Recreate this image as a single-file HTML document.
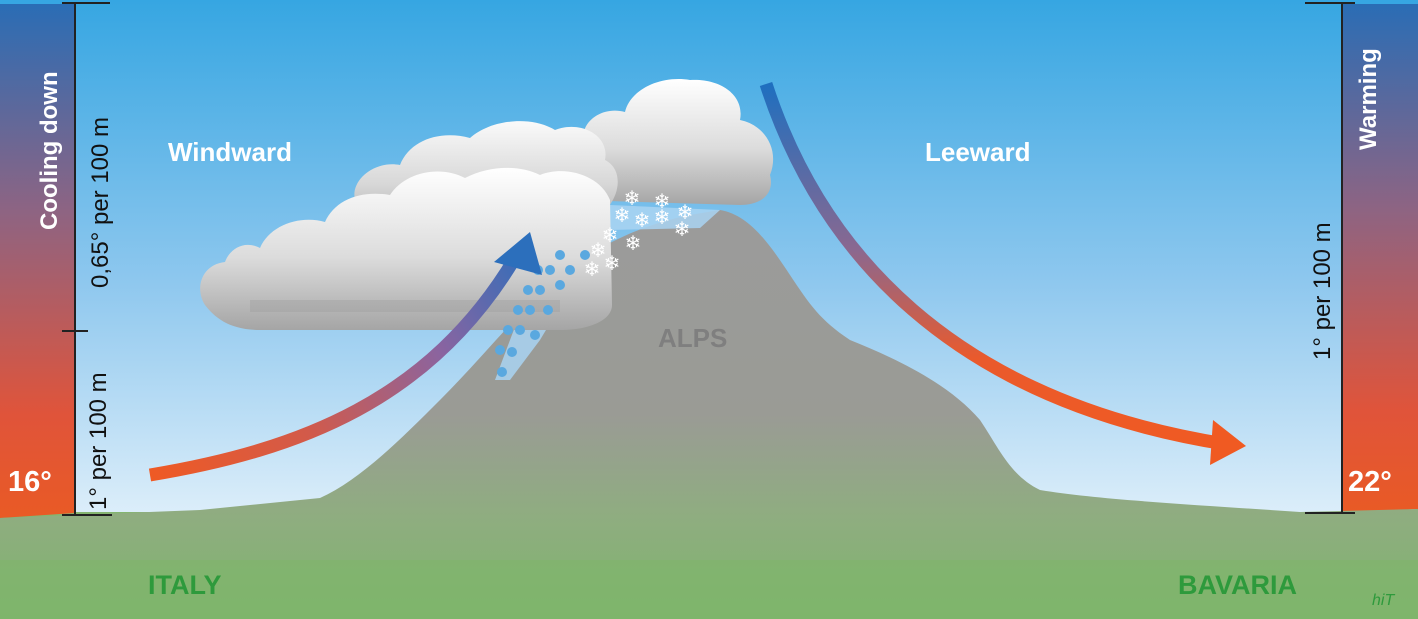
<!DOCTYPE html>
<html><head><style>
html,body{margin:0;padding:0;width:1418px;height:619px;overflow:hidden;background:#fff}
svg{display:block}
text{font-family:"Liberation Sans",Arial,sans-serif}
</style></head><body>
<svg width="1418" height="619" viewBox="0 0 1418 619" xmlns="http://www.w3.org/2000/svg">
<defs>
<linearGradient id="sky" x1="0" y1="0" x2="0" y2="1">
<stop offset="0" stop-color="#36a6e2"/><stop offset="0.45" stop-color="#8dc7ee"/><stop offset="1" stop-color="#ffffff"/>
</linearGradient>
<linearGradient id="bar" x1="0" y1="0" x2="0" y2="1">
<stop offset="0" stop-color="#2a6db5"/><stop offset="0.4" stop-color="#8d6483"/><stop offset="0.8" stop-color="#e0543a"/><stop offset="1" stop-color="#e95a25"/>
</linearGradient>
<linearGradient id="mtn" x1="0" y1="0" x2="0" y2="1">
<stop offset="0" stop-color="#9b9b9b"/><stop offset="0.5" stop-color="#9a9b95"/><stop offset="0.75" stop-color="#8fad80"/><stop offset="1" stop-color="#7eb46c"/>
</linearGradient>
<linearGradient id="cl" x1="0" y1="0" x2="0" y2="1">
<stop offset="0" stop-color="#ffffff"/><stop offset="0.55" stop-color="#dcdcdc"/><stop offset="1" stop-color="#a5a5a5"/>
</linearGradient>
<linearGradient id="cl2" x1="0" y1="0" x2="0" y2="1">
<stop offset="0" stop-color="#fafafa"/><stop offset="0.5" stop-color="#d8d8d8"/><stop offset="1" stop-color="#a0a0a0"/>
</linearGradient>
<linearGradient id="a1" x1="150" y1="475" x2="530" y2="240" gradientUnits="userSpaceOnUse">
<stop offset="0" stop-color="#ef5a24"/><stop offset="0.35" stop-color="#d25a4a"/><stop offset="0.7" stop-color="#8a64a0"/><stop offset="1" stop-color="#2c6fbc"/>
</linearGradient>
<linearGradient id="a2" x1="0" y1="85" x2="0" y2="450" gradientUnits="userSpaceOnUse">
<stop offset="0" stop-color="#1f6fbf"/><stop offset="0.45" stop-color="#8a6890"/><stop offset="0.75" stop-color="#ea5a2c"/><stop offset="1" stop-color="#f05a22"/>
</linearGradient>
</defs>
<rect width="1418" height="619" fill="url(#sky)"/>
<rect x="0" y="512" width="1418" height="107" fill="#84b570"/>
<polygon points="0,4 75,4 75,513 0,518" fill="url(#bar)"/>
<polygon points="1343,4 1418,4 1418,509 1343,513" fill="url(#bar)"/>
<path d="M0,518 L200,510 L320,498 C360,480 400,440 440,400 C480,360 520,310 560,275 C600,245 640,225 690,215 L720,210 C750,215 770,245 790,275 C810,305 820,320 850,340 C900,360 950,385 980,420 C1000,450 1010,475 1040,490 C1100,500 1200,505 1300,512 L1418,509 L1418,619 L0,619 Z" fill="url(#mtn)"/>
<rect x="0" y="560" width="1418" height="59" fill="#7fb56b" opacity="0.6"/>
<path d="M495,380 L540,260 L610,205 L720,210 L700,228 L610,230 L570,290 L540,340 L510,380 Z" fill="#a9d4f2" opacity="0.85"/>
<g fill="url(#cl)">
<path d="M575,200 C560,190 565,160 585,150 C575,125 600,105 625,112 C630,90 660,75 690,80 C720,78 745,95 740,120 C765,125 780,150 770,175 C775,195 760,205 740,205 Z"/>
<path d="M340,240 C325,225 335,205 355,200 C350,180 375,160 400,165 C410,140 440,130 470,138 C490,120 530,115 555,130 C580,120 610,135 605,160 C625,170 620,200 600,215 L600,245 Z" fill="url(#cl2)"/>
<path d="M205,305 C195,290 200,265 225,262 C230,248 245,240 260,248 C270,225 300,215 325,222 C335,200 360,190 390,195 C405,172 440,165 465,178 C490,165 520,165 540,175 C565,165 600,175 610,200 L612,305 C612,320 590,330 560,330 L260,330 C230,330 215,318 205,305 Z"/>
</g>
<path d="M250,300 L560,300 L560,312 L250,312 Z" fill="#9a9a9a" opacity="0.35"/>
<g fill="#5aa8df">
<circle cx="502" cy="372" r="5"/><circle cx="512" cy="352" r="5"/><circle cx="500" cy="350" r="5"/><circle cx="520" cy="330" r="5"/><circle cx="508" cy="330" r="5"/><circle cx="530" cy="310" r="5"/><circle cx="518" cy="310" r="5"/><circle cx="540" cy="290" r="5"/><circle cx="528" cy="290" r="5"/><circle cx="550" cy="270" r="5"/><circle cx="538" cy="270" r="5"/><circle cx="560" cy="255" r="5"/><circle cx="570" cy="270" r="5"/><circle cx="548" cy="310" r="5"/><circle cx="560" cy="285" r="5"/><circle cx="585" cy="255" r="5"/><circle cx="535" cy="335" r="5"/>
</g>
<g fill="#ffffff" font-size="20" text-anchor="middle">
<text x="632" y="205">❄</text><text x="662" y="208">❄</text><text x="622" y="222">❄</text><text x="642" y="227">❄</text><text x="662" y="224">❄</text><text x="685" y="219">❄</text><text x="682" y="236">❄</text><text x="610" y="242">❄</text><text x="633" y="250">❄</text><text x="598" y="257">❄</text><text x="612" y="270">❄</text><text x="592" y="276">❄</text>
</g>
<path d="M150,475 C300,450 430,400 515,258" fill="none" stroke="url(#a1)" stroke-width="13"/>
<polygon points="494,262 530,232 542,275 " fill="#2c6fbc"/>
<path d="M766,84 C820,250 950,400 1225,444" fill="none" stroke="url(#a2)" stroke-width="13"/>
<polygon points="1213,420 1246,446 1210,465" fill="#f05a22"/>
<g stroke="#222" stroke-width="2">
<line x1="75" y1="3" x2="75" y2="515"/><line x1="62" y1="3" x2="110" y2="3"/><line x1="62" y1="331" x2="88" y2="331"/><line x1="62" y1="515" x2="112" y2="515"/>
<line x1="1342" y1="3" x2="1342" y2="513"/><line x1="1305" y1="3" x2="1355" y2="3"/><line x1="1305" y1="513" x2="1355" y2="513"/>
</g>
<g font-size="24" fill="#fff" font-weight="bold">
<text transform="translate(57,230) rotate(-90)">Cooling down</text>
<text transform="translate(1376,150) rotate(-90)">Warming</text>
<text x="8" y="491" font-size="29">16°</text>
<text x="1348" y="491" font-size="29">22°</text>
<text x="168" y="161" font-size="26">Windward</text>
<text x="925" y="161" font-size="26">Leeward</text>
</g>
<g font-size="24" fill="#111">
<text transform="translate(108,288) rotate(-90)">0,65° per 100 m</text>
<text transform="translate(106,510) rotate(-90)">1° per 100 m</text>
<text transform="translate(1330,360) rotate(-90)">1° per 100 m</text>
</g>
<text x="658" y="347" font-size="26" font-weight="bold" fill="#7f7f7f">ALPS</text>
<text x="148" y="594" font-size="27" font-weight="bold" fill="#2e9a3c">ITALY</text>
<text x="1178" y="594" font-size="27" font-weight="bold" fill="#2e9a3c">BAVARIA</text>
<text x="1372" y="605" font-size="16" font-style="italic" fill="#2e9a3c">hiT</text>
</svg>
</body></html>
